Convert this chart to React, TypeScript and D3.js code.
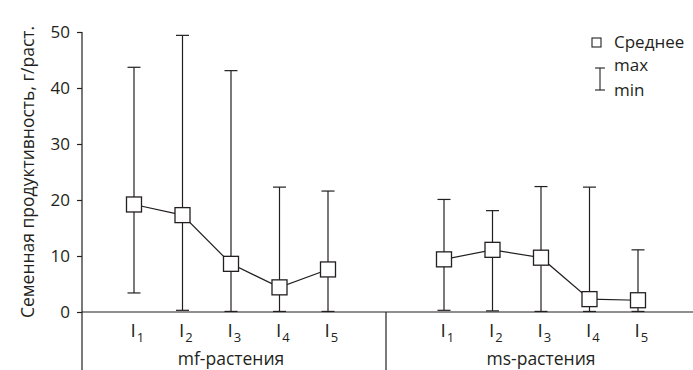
import React, { useRef, useEffect } from 'react';
import * as d3 from 'd3';

// data
const groups = ['mf-растения', 'ms-растения'];
const levels = ['1', '2', '3', '4', '5'];
const mfMean = [19.2, 17.3, 8.6, 4.4, 7.6];
const mfMax = [43.7, 49.4, 43.1, 22.3, 21.6];
const mfMin = [3.4, 0.3, 0.1, 0.1, 0.1];
const msMean = [9.4, 11.1, 9.7, 2.3, 2.1];
const msMax = [20.1, 18.1, 22.4, 22.3, 11.1];
const msMin = [0.3, 0.2, 0.1, 0.1, 0.1];
const yTicks = [0, 10, 20, 30, 40, 50];

const W = 693;
const H = 370;
const FONT = '"Open Sans", "Noto Sans", sans-serif';
const INK = '#231f20';

function App() {
  const svgRef = useRef<SVGSVGElement>(null);

  useEffect(() => {
    const svg = d3.select(svgRef.current);
    svg.selectAll('*').remove();

    const axisX = 82;
    const y = d3.scaleLinear().domain([0, 50]).range([312, 32]);
    const xGroup = d3.scaleBand().domain(groups).range([76, 696]);
    const xLevel = d3.scalePoint().domain(levels).range([-97, 97]);

    const series = [
      { g: groups[0], mean: mfMean, max: mfMax, min: mfMin },
      { g: groups[1], mean: msMean, max: msMax, min: msMin },
    ];
    const cx = (g: string, l: string) =>
      (xGroup(g) as number) + xGroup.bandwidth() / 2 + (xLevel(l) as number);

    // y axis
    const yAxis = d3.axisLeft(y).tickValues(yTicks).tickSize(5).tickPadding(7);
    const ga = svg.append('g').attr('transform', `translate(${axisX},0)`).call(yAxis);
    ga.select('.domain').remove();
    ga.selectAll('line').attr('stroke', INK).attr('stroke-width', 1.2);
    ga.selectAll('text')
      .attr('fill', INK)
      .style('font-family', FONT)
      .style('font-size', '17px');
    svg.append('line')
      .attr('x1', axisX).attr('x2', axisX).attr('y1', y(50)).attr('y2', H)
      .attr('stroke', INK).attr('stroke-width', 1.2);

    // zero baseline + group separator
    svg.append('line')
      .attr('x1', axisX).attr('x2', W).attr('y1', y(0)).attr('y2', y(0))
      .attr('stroke', INK).attr('stroke-width', 1.2);
    svg.append('line')
      .attr('x1', xGroup(groups[1]) as number).attr('x2', xGroup(groups[1]) as number)
      .attr('y1', y(0)).attr('y2', H)
      .attr('stroke', INK).attr('stroke-width', 1.2);

    // y label
    svg.append('text')
      .attr('transform', `translate(34,${172}) rotate(-90)`)
      .attr('text-anchor', 'middle')
      .attr('fill', INK)
      .style('font-family', FONT)
      .style('font-size', '17.5px')
      .text('Семенная продуктивность, г/раст.');

    series.forEach((s) => {
      const g = svg.append('g');
      // whiskers
      levels.forEach((l, i) => {
        const x = cx(s.g, l);
        g.append('line')
          .attr('x1', x).attr('x2', x).attr('y1', y(s.max[i])).attr('y2', y(s.min[i]))
          .attr('stroke', INK).attr('stroke-width', 1.2);
        [s.max[i], s.min[i]].forEach((v) => {
          g.append('line')
            .attr('x1', x - 6.5).attr('x2', x + 6.5).attr('y1', y(v)).attr('y2', y(v))
            .attr('stroke', INK).attr('stroke-width', 1.2);
        });
      });
      // mean line
      const ln = d3.line<number>()
        .x((_, i) => cx(s.g, levels[i]))
        .y((d) => y(d));
      g.append('path')
        .attr('d', ln(s.mean))
        .attr('fill', 'none')
        .attr('stroke', INK)
        .attr('stroke-width', 1.2);
      // squares
      levels.forEach((l, i) => {
        g.append('rect')
          .attr('x', cx(s.g, l) - 7.5).attr('y', y(s.mean[i]) - 7.5)
          .attr('width', 15).attr('height', 15)
          .attr('fill', 'white').attr('stroke', INK).attr('stroke-width', 1.3);
      });
      // category labels
      levels.forEach((l) => {
        const t = g.append('text')
          .attr('x', cx(s.g, l) - 3.5).attr('y', 337)
          .attr('fill', INK)
          .style('font-family', FONT)
          .style('font-size', '19px');
        t.append('tspan').text('I');
        t.append('tspan').attr('dx', 1).attr('dy', 5).style('font-size', '13px').text(l);
      });
      // group label
      g.append('text')
        .attr('x', (xGroup(s.g) as number) + xGroup.bandwidth() / 2)
        .attr('y', 365)
        .attr('text-anchor', 'middle')
        .attr('fill', INK)
        .style('font-family', FONT)
        .style('font-size', '17.5px')
        .text(s.g);
    });

    // legend
    const lg = svg.append('g');
    lg.append('rect')
      .attr('x', 592).attr('y', 38).attr('width', 9).attr('height', 9)
      .attr('fill', 'white').attr('stroke', INK).attr('stroke-width', 1.1);
    lg.append('text')
      .attr('x', 614).attr('y', 48)
      .attr('fill', INK).style('font-family', FONT).style('font-size', '17px')
      .text('Среднее');
    lg.append('line').attr('x1', 600).attr('x2', 600).attr('y1', 68).attr('y2', 90)
      .attr('stroke', INK).attr('stroke-width', 1.1);
    [68, 90].forEach((v) => {
      lg.append('line').attr('x1', 595).attr('x2', 605).attr('y1', v).attr('y2', v)
        .attr('stroke', INK).attr('stroke-width', 1.1);
    });
    lg.append('text').attr('x', 614).attr('y', 71)
      .attr('fill', INK).style('font-family', FONT).style('font-size', '17px').text('max');
    lg.append('text').attr('x', 614).attr('y', 96)
      .attr('fill', INK).style('font-family', FONT).style('font-size', '17px').text('min');
  }, []);

  return (
    <svg
      ref={svgRef}
      width={W}
      height={H}
      style={{ position: 'absolute', left: 0, top: 0, background: 'white' }}
    />
  );
}

export default App;
